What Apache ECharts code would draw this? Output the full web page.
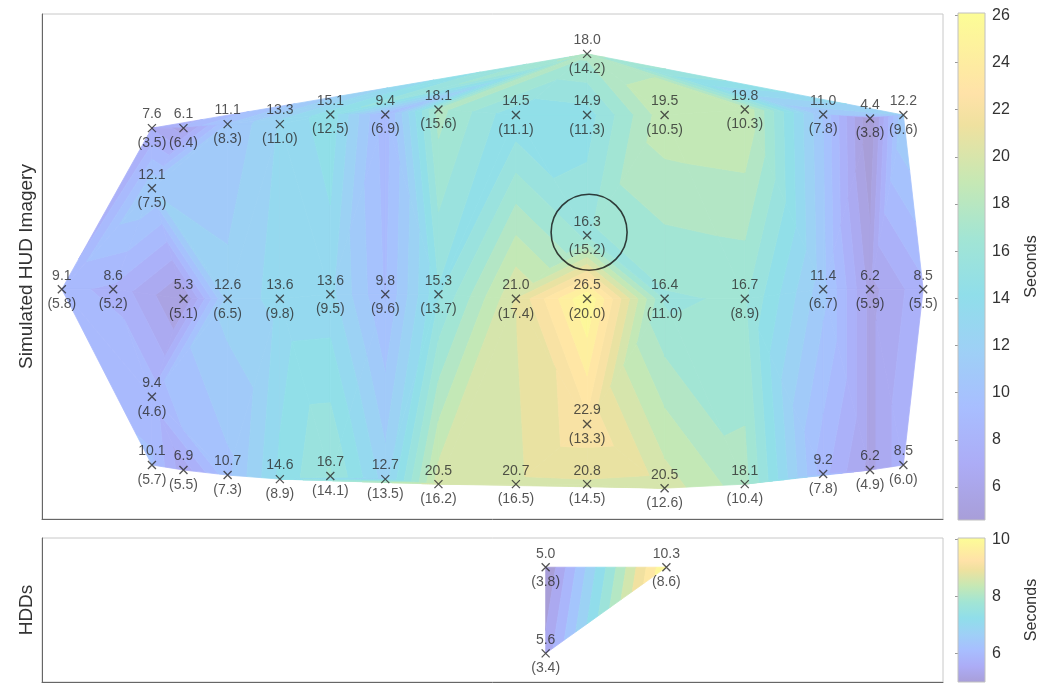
<!DOCTYPE html>
<html>
<head>
<meta charset="utf-8">
<script src="https://cdn.jsdelivr.net/npm/echarts@6/dist/echarts.min.js"></script>
<style>
  html, body { margin: 0; padding: 0; background: #fff; }
  #main { width: 1045px; height: 684px; }
</style>
</head>
<body>
<div id="main"></div>
<script>
// measurement positions (field of view, 0-100 both ways), mean time and (sd) in seconds
var hudX = [12.2, 15.7, 20.6, 26.4, 32.0, 38.1, 44.0, 52.6, 60.5, 60.5, 69.1, 78.0, 86.7, 91.9, 95.6,
            12.2, 60.5,
            2.2, 7.9, 15.7, 20.6, 26.4, 32.0, 38.1, 44.0, 52.6, 60.5, 69.1, 78.0, 86.7, 91.9, 97.8,
            12.2, 60.5,
            12.2, 15.7, 20.6, 26.4, 32.0, 38.1, 44.0, 52.6, 60.5, 69.1, 78.0, 86.7, 91.9, 95.6];
var hudY = [77.4, 77.4, 78.2, 78.2, 80.1, 80.1, 81.1, 80.0, 80.0, 92.1, 80.0, 81.1, 80.1, 79.3, 80.0,
            65.5, 56.2,
            45.5, 45.5, 43.6, 43.6, 43.6, 44.5, 44.5, 44.5, 43.6, 43.6, 43.6, 43.6, 45.5, 45.5, 45.5,
            24.2, 18.8,
            10.7, 9.7, 8.7, 7.9, 8.5, 7.9, 6.9, 6.9, 6.9, 6.1, 6.9, 8.9, 9.7, 10.7];
var hudMean = [7.6, 6.1, 11.1, 13.3, 15.1, 9.4, 18.1, 14.5, 14.9, 18.0, 19.5, 19.8, 11.0, 4.4, 12.2,
               12.1, 16.3,
               9.1, 8.6, 5.3, 12.6, 13.6, 13.6, 9.8, 15.3, 21.0, 26.5, 16.4, 16.7, 11.4, 6.2, 8.5,
               9.4, 22.9,
               10.1, 6.9, 10.7, 14.6, 16.7, 12.7, 20.5, 20.7, 20.8, 20.5, 18.1, 9.2, 6.2, 8.5];
var hudSd = [3.5, 6.4, 8.3, 11.0, 12.5, 6.9, 15.6, 11.1, 11.3, 14.2, 10.5, 10.3, 7.8, 3.8, 9.6,
             7.5, 15.2,
             5.8, 5.2, 5.1, 6.5, 9.8, 9.5, 9.6, 13.7, 17.4, 20.0, 11.0, 8.9, 6.7, 5.9, 5.5,
             4.6, 13.3,
             5.7, 5.5, 7.3, 8.9, 14.1, 13.5, 16.2, 16.5, 14.5, 12.6, 10.4, 7.8, 4.9, 6.0];
var hudHighlight = 16; // the circled point

var hddX = [55.9, 69.3, 55.9];
var hddY = [79.7, 79.7, 19.9];
var hddMean = [5.0, 10.3, 5.6];
var hddSd = [3.8, 8.6, 3.4];

// colour bar limits and ticks
var hudClim = [4.6, 26.1];
var hudTicks = [6, 8, 10, 12, 14, 16, 18, 20, 22, 24, 26];
var hddClim = [5.0, 10.05];
var hddTicks = [6, 8, 10];

// parula, seen through ~45% opacity on white
var cmap = [
  [0.000, [168, 158, 216]], [0.111, [172, 172, 246]], [0.222, [168, 190, 255]],
  [0.333, [158, 208, 246]], [0.444, [144, 222, 234]], [0.556, [162, 229, 212]],
  [0.667, [198, 232, 180]], [0.778, [239, 225, 159]], [0.841, [255, 226, 168]],
  [0.889, [254, 234, 162]], [1.000, [252, 253, 150]]
];

function cmapColor(t) {
  t = Math.max(0, Math.min(1, t));
  for (var i = 1; i < cmap.length; i++) {
    if (t <= cmap[i][0]) {
      var a = cmap[i - 1], b = cmap[i];
      var f = (t - a[0]) / (b[0] - a[0]);
      var c = a[1].map(function (v, k) { return Math.round(v + (b[1][k] - v) * f); });
      return 'rgb(' + c.join(',') + ')';
    }
  }
  return 'rgb(' + cmap[cmap.length - 1][1].join(',') + ')';
}

function gradientFill() {
  return {
    type: 'linear', x: 0, y: 1, x2: 0, y2: 0,
    colorStops: cmap.map(function (s) { return { offset: s[0], color: cmapColor(s[0]) }; })
  };
}

// Bowyer-Watson triangulation
function delaunay(px, py) {
  var n = px.length;
  var P = [];
  for (var i = 0; i < n; i++) P.push([px[i], py[i]]);
  var big = 1e5;
  P.push([-big, -big], [big * 2, -big], [0, big * 2]);
  function circ(t) {
    var a = P[t[0]], b = P[t[1]], c = P[t[2]];
    var d = 2 * (a[0] * (b[1] - c[1]) + b[0] * (c[1] - a[1]) + c[0] * (a[1] - b[1]));
    var a2 = a[0] * a[0] + a[1] * a[1], b2 = b[0] * b[0] + b[1] * b[1], c2 = c[0] * c[0] + c[1] * c[1];
    var ux = (a2 * (b[1] - c[1]) + b2 * (c[1] - a[1]) + c2 * (a[1] - b[1])) / d;
    var uy = (a2 * (c[0] - b[0]) + b2 * (a[0] - c[0]) + c2 * (b[0] - a[0])) / d;
    return [ux, uy, (a[0] - ux) * (a[0] - ux) + (a[1] - uy) * (a[1] - uy)];
  }
  var tris = [[n, n + 1, n + 2]];
  tris[0].c = circ(tris[0]);
  for (var i = 0; i < n; i++) {
    var p = P[i];
    var bad = [], keep = [];
    tris.forEach(function (t) {
      var dx = p[0] - t.c[0], dy = p[1] - t.c[1];
      if (dx * dx + dy * dy < t.c[2] - 1e-9) bad.push(t); else keep.push(t);
    });
    var edges = [];
    bad.forEach(function (t) {
      [[t[0], t[1]], [t[1], t[2]], [t[2], t[0]]].forEach(function (e) {
        var k = edges.findIndex(function (f) {
          return (f[0] === e[1] && f[1] === e[0]) || (f[0] === e[0] && f[1] === e[1]);
        });
        if (k >= 0) edges.splice(k, 1); else edges.push(e);
      });
    });
    edges.forEach(function (e) {
      var t = [e[0], e[1], i];
      t.c = circ(t);
      keep.push(t);
    });
    tris = keep;
  }
  return tris.filter(function (t) { return t[0] < n && t[1] < n && t[2] < n; })
             .map(function (t) { return [t[0], t[1], t[2]]; });
}

// scale to the drawn aspect (px per unit) before triangulating
var hudTris = delaunay(hudX.map(function (v) { return v * 9.01; }), hudY.map(function (v) { return v * 5.05; }));
var hddTris = delaunay(hddX.map(function (v) { return v * 9.01; }), hddY.map(function (v) { return v * 1.44; }));

function makeLevels(vals, count) {
  var lo = Math.min.apply(null, vals), hi = Math.max.apply(null, vals);
  var lv = [];
  for (var i = 0; i <= count; i++) lv.push(lo + (hi - lo) * i / count);
  lv[count] += 1e-6;
  return lv;
}
var hudLevels = makeLevels(hudMean, 20);
var hddLevels = makeLevels(hddMean, 12);

function clip(poly, level, sign) {
  var out = [];
  for (var i = 0; i < poly.length; i++) {
    var a = poly[i], b = poly[(i + 1) % poly.length];
    var da = sign * (a.v - level), db = sign * (b.v - level);
    if (da >= 0) out.push(a);
    if ((da >= 0) !== (db >= 0)) {
      var f = da / (da - db);
      out.push({
        p: [a.p[0] + (b.p[0] - a.p[0]) * f, a.p[1] + (b.p[1] - a.p[1]) * f],
        v: a.v + (b.v - a.v) * f
      });
    }
  }
  return out;
}

function contourSeries(xs, ys, vs, tris, levels, clim, axis) {
  return {
    type: 'custom',
    xAxisIndex: axis, yAxisIndex: axis,
    silent: true,
    z: 1,
    data: tris.map(function (t) {
      return [(xs[t[0]] + xs[t[1]] + xs[t[2]]) / 3, (ys[t[0]] + ys[t[1]] + ys[t[2]]) / 3];
    }),
    renderItem: function (params, api) {
      var t = tris[params.dataIndex];
      var verts = t.map(function (i) { return { p: api.coord([xs[i], ys[i]]), v: vs[i] }; });
      var children = [];
      for (var k = 0; k < levels.length - 1; k++) {
        var poly = clip(clip(verts, levels[k], 1), levels[k + 1], -1);
        if (poly.length < 3) continue;
        var col = cmapColor((levels[k] - clim[0]) / (clim[1] - clim[0]));
        children.push({
          type: 'polygon',
          shape: { points: poly.map(function (q) { return q.p; }) },
          style: { fill: col, stroke: col, lineWidth: 0.8 }
        });
      }
      return { type: 'group', children: children };
    }
  };
}

var xMark = 'path://M0,0L10,10M10,0L0,10';

function pointSeries(xs, ys, ms, ss, axis) {
  var data = xs.map(function (x, i) { return [x, ys[i], ms[i], ss[i]]; });
  return [{
    type: 'scatter',
    xAxisIndex: axis, yAxisIndex: axis,
    z: 5,
    data: data,
    symbol: xMark,
    symbolSize: 8,
    itemStyle: { color: 'none', borderColor: '#2a2a2a', borderWidth: 1.3 },
    label: {
      show: true, position: 'top', distance: 0,
      fontSize: 14, color: '#2a2a2a',
      formatter: function (p) { return p.value[2].toFixed(1); }
    }
  }, {
    type: 'scatter',
    xAxisIndex: axis, yAxisIndex: axis,
    z: 5,
    data: data,
    symbolSize: 8,
    itemStyle: { color: 'rgba(0,0,0,0)' },
    label: {
      show: true, position: 'bottom', distance: 4,
      fontSize: 14, color: '#2a2a2a',
      formatter: function (p) { return '(' + p.value[3].toFixed(1) + ')'; }
    }
  }];
}

function colorbarSeries(clim, axis) {
  return {
    type: 'custom',
    xAxisIndex: axis, yAxisIndex: axis,
    silent: true,
    data: [[0, clim[0], 1, clim[1]]],
    renderItem: function (params, api) {
      var a = api.coord([0, api.value(3)]);
      var b = api.coord([1, api.value(1)]);
      return {
        type: 'rect',
        shape: { x: a[0], y: a[1], width: b[0] - a[0], height: b[1] - a[1] },
        style: { fill: gradientFill(), stroke: '#c0c0c0', lineWidth: 1 }
      };
    }
  };
}

function plotAxes(grid, name) {
  return {
    x: {
      gridIndex: grid, type: 'value', min: 0, max: 100,
      axisLine: { show: true, onZero: false, lineStyle: { color: '#666' } },
      axisTick: { show: false }, axisLabel: { show: false }, splitLine: { show: false }
    },
    y: {
      gridIndex: grid, type: 'value', min: 0, max: 100,
      name: name, nameLocation: 'middle', nameGap: 6,
      nameTextStyle: { fontSize: 19, color: '#333' },
      axisLine: { show: true, onZero: false, lineStyle: { color: '#666' } },
      axisTick: { show: false }, axisLabel: { show: false }, splitLine: { show: false }
    }
  };
}

function barAxes(grid, clim, ticks) {
  return {
    x: { gridIndex: grid, type: 'value', min: 0, max: 1, show: false },
    y: {
      gridIndex: grid, type: 'value', position: 'right',
      min: clim[0], max: clim[1],
      name: 'Seconds', nameLocation: 'middle', nameGap: 39, nameRotate: 90,
      nameTextStyle: { fontSize: 16, color: '#333' },
      axisLine: { show: false },
      axisTick: { show: true, inside: true, length: 3, customValues: ticks, lineStyle: { color: '#999' } },
      axisLabel: { customValues: ticks, fontSize: 16, color: '#333', margin: 7 },
      splitLine: { show: false }
    }
  };
}

var a0 = plotAxes(0, 'Simulated HUD Imagery');
var a1 = plotAxes(1, 'HDDs');
var a2 = barAxes(2, hudClim, hudTicks);
var a3 = barAxes(3, hddClim, hddTicks);

var chart = echarts.init(document.getElementById('main'));
chart.setOption({
  animation: false,
  backgroundColor: '#fff',
  textStyle: { fontFamily: 'Liberation Sans, Arial, sans-serif' },
  grid: [
    { left: 42, top: 14, width: 901, height: 505, show: true, borderColor: '#c8c8c8', borderWidth: 1 },
    { left: 42, top: 538, width: 901, height: 144, show: true, borderColor: '#c8c8c8', borderWidth: 1 },
    { left: 958, top: 13, width: 27, height: 507 },
    { left: 958, top: 538, width: 27, height: 144 }
  ],
  xAxis: [a0.x, a1.x, a2.x, a3.x],
  yAxis: [a0.y, a1.y, a2.y, a3.y],
  series: [
    contourSeries(hudX, hudY, hudMean, hudTris, hudLevels, hudClim, 0),
    contourSeries(hddX, hddY, hddMean, hddTris, hddLevels, hddClim, 1)
  ].concat(pointSeries(hudX, hudY, hudMean, hudSd, 0))
   .concat(pointSeries(hddX, hddY, hddMean, hddSd, 1))
   .concat([
    colorbarSeries(hudClim, 2),
    colorbarSeries(hddClim, 3),
    {
      type: 'scatter',
      xAxisIndex: 0, yAxisIndex: 0,
      z: 6, silent: true,
      data: [[hudX[hudHighlight], hudY[hudHighlight]]],
      symbol: 'circle', symbolSize: 76, symbolOffset: [2, -3],
      itemStyle: { color: 'none', borderColor: '#111', borderWidth: 1.6 }
    }
  ])
});
</script>
</body>
</html>
